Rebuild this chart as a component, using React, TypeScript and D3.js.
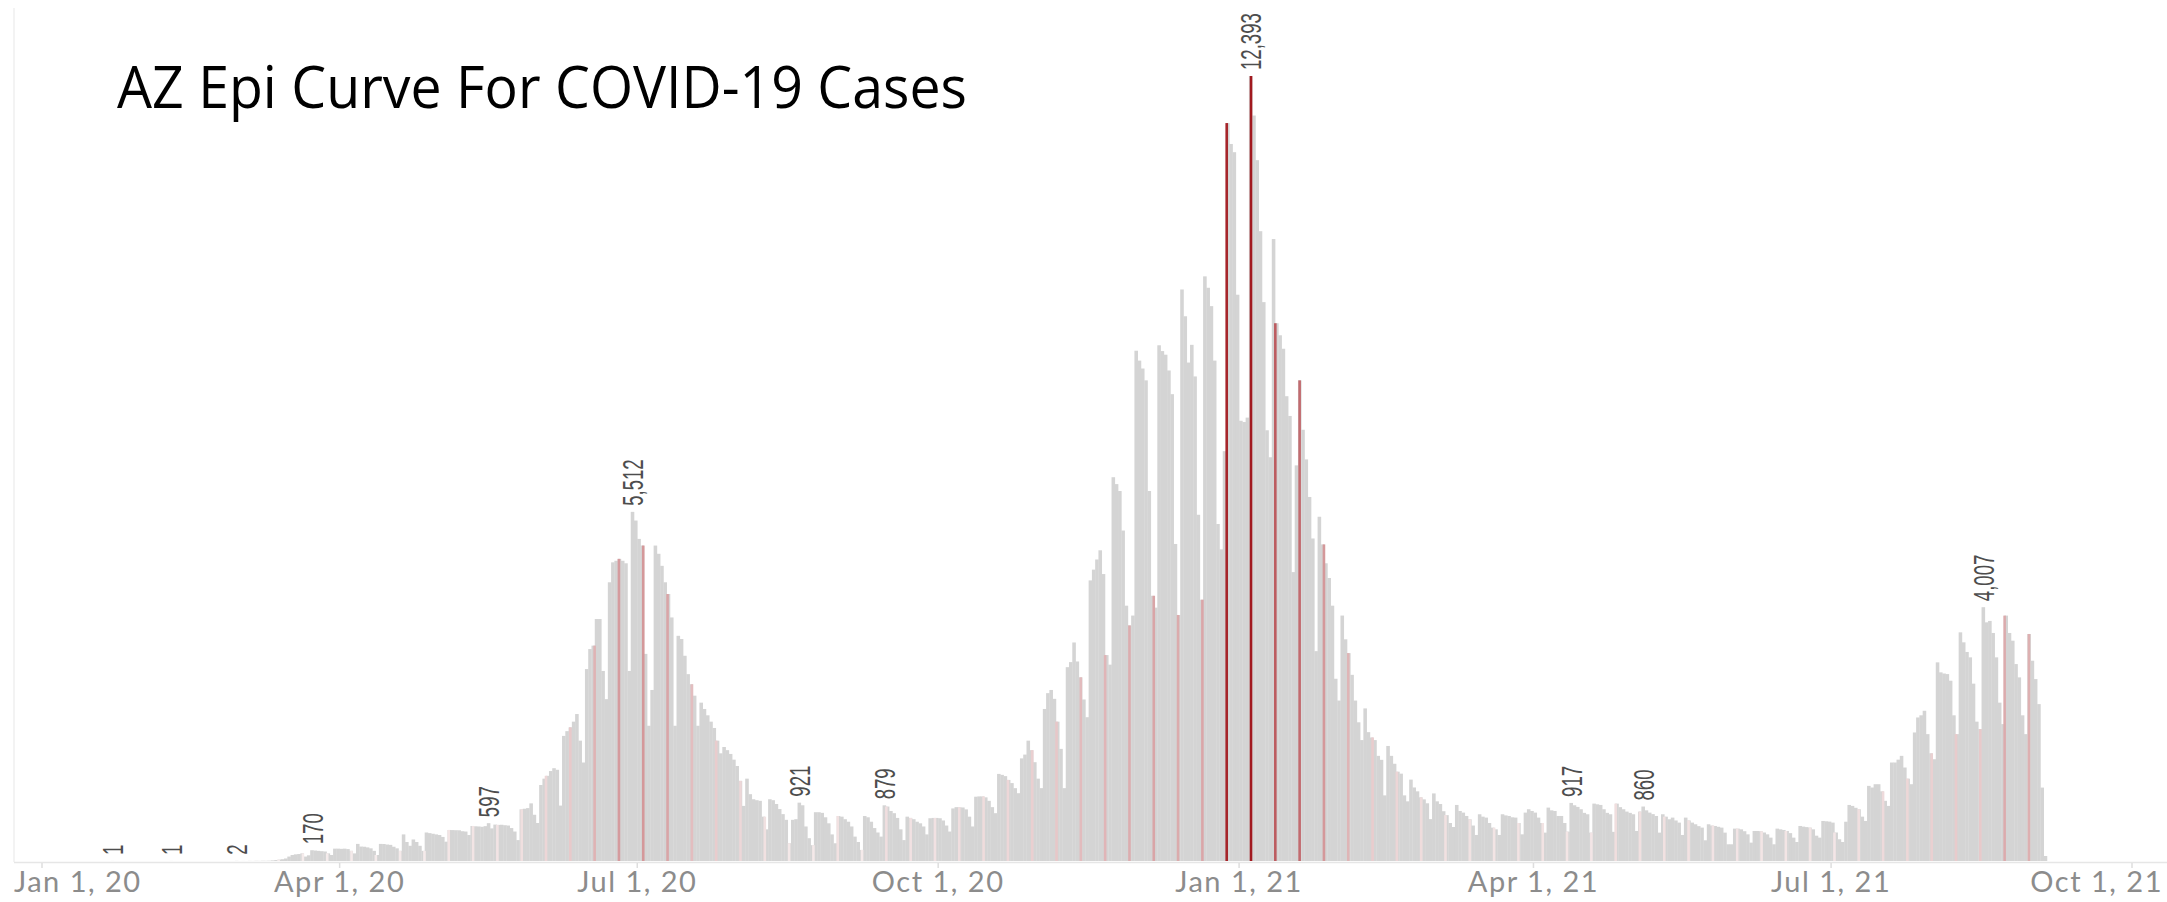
import * as d3 from "d3";
import React, { useEffect } from "react";

const chartTitle = "AZ Epi Curve For COVID-19 Cases";

// first handful of cases, before the daily series starts
const earlyDates = ["2020-01-22", "2020-02-09", "2020-02-29"];
const earlyCases = [1, 1, 2];

// daily cases by specimen date, one row per week (Mon..Sun), starting Mon 2 Mar 2020
const seriesStart = "2020-03-02";
const weeklyCases: number[][] = [
    [1, 0, 2, 1, 3, 2, 4],
    [3, 5, 9, 15, 22, 28, 40],
    [70, 95, 105, 110, 121, 70, 90],
    [170, 165, 160, 155, 150, 120, 95],
    [195, 195, 192, 195, 188, 160, 120],
    [270, 228, 225, 215, 200, 160, 95],
    [270, 268, 260, 255, 225, 200, 160],
    [420, 300, 240, 340, 300, 240, 160],
    [450, 440, 430, 420, 410, 380, 305],
    [490, 488, 486, 485, 470, 465, 410],
    [553, 548, 545, 540, 550, 597, 515],
    [575, 570, 572, 565, 560, 520, 465],
    [330, 815, 825, 835, 910, 730, 600],
    [1200, 1300, 1345, 1420, 1465, 1440, 875],
    [1975, 2050, 2110, 2200, 2320, 1900, 1555],
    [3030, 3346, 3400, 3820, 3820, 3000, 2555],
    [4400, 4715, 4740, 4770, 4740, 4700, 3000],
    [5512, 5375, 5085, 4980, 3270, 2135, 2700],
    [4980, 4850, 4660, 4400, 4215, 3845, 2135],
    [3555, 3505, 3240, 2950, 2790, 2610, 2135],
    [2500, 2400, 2300, 2200, 2100, 1900, 1700],
    [1800, 1750, 1690, 1600, 1500, 1265, 870],
    [1300, 1055, 975, 960, 950, 700, 500],
    [975, 960, 900, 820, 740, 650, 280],
    [650, 660, 921, 880, 545, 360, 250],
    [770, 770, 760, 690, 595, 420, 280],
    [710, 700, 660, 620, 545, 385, 300],
    [175, 710, 690, 620, 520, 450, 385],
    [879, 860, 790, 755, 680, 500, 330],
    [700, 680, 660, 620, 595, 545, 420],
    [675, 680, 680, 675, 640, 560, 465],
    [830, 850, 848, 845, 815, 700, 545],
    [1015, 1020, 1020, 1005, 950, 850, 755],
    [1375, 1360, 1340, 1280, 1230, 1150, 1070],
    [1620, 1680, 1900, 1750, 1560, 1300, 1150],
    [2400, 2650, 2700, 2560, 2200, 1770, 1150],
    [3060, 3140, 3450, 3150, 2900, 2550, 2270],
    [4430, 4600, 4760, 4905, 4530, 3251, 3100],
    [6059, 5950, 5841, 5217, 4031, 3719, 3875],
    [8056, 7900, 7775, 7588, 5841, 4187, 4000],
    [8142, 8050, 7993, 7744, 7370, 5005, 3884],
    [9023, 8600, 7869, 8149, 7650, 5466, 4125],
    [9230, 9050, 8760, 7900, 5320, 4920, 6470],
    [11650, 11320, 11190, 8940, 6950, 6930, 7000],
    [12393, 11769, 11064, 9943, 8823, 6800, 6374],
    [9819, 8490, 8300, 8087, 7338, 7026, 4561],
    [6246, 7588, 6808, 6340, 5747, 5092, 3313],
    [5435, 4998, 4700, 4468, 4031, 2877, 2533],
    [3875, 3500, 3282, 2939, 2533, 2190, 1909],
    [2409, 2034, 1950, 1909, 1660, 1597, 1036],
    [1816, 1660, 1535, 1410, 1379, 1036, 942],
    [1285, 1161, 1100, 1005, 973, 911, 661],
    [1067, 942, 900, 786, 724, 600, 537],
    [885, 790, 764, 711, 659, 560, 411],
    [738, 700, 685, 600, 527, 500, 411],
    [738, 720, 711, 690, 685, 600, 421],
    [764, 817, 790, 764, 685, 600, 448],
    [843, 800, 790, 711, 711, 600, 464],
    [917, 880, 854, 817, 760, 738, 448],
    [906, 895, 885, 817, 760, 738, 460],
    [906, 850, 817, 780, 760, 738, 474],
    [780, 860, 800, 764, 740, 711, 448],
    [738, 700, 659, 685, 640, 606, 411],
    [685, 640, 606, 580, 550, 527, 327],
    [580, 560, 553, 540, 527, 448, 264],
    [264, 511, 511, 500, 470, 421, 290],
    [474, 474, 470, 450, 421, 369, 264],
    [511, 500, 490, 474, 440, 369, 300],
    [553, 543, 535, 527, 500, 400, 369],
    [632, 627, 622, 606, 450, 343, 300],
    [620, 885, 870, 840, 817, 700, 632],
    [1186, 1160, 1212, 1212, 1100, 950, 870],
    [1555, 1555, 1600, 1660, 1476, 1300, 1212],
    [2029, 2266, 2300, 2372, 2003, 1700, 1607],
    [3136, 2978, 2960, 2951, 2846, 2300, 2003],
    [3610, 3452, 3300, 3215, 2800, 2200, 2082],
    [4007, 3768, 3790, 3600, 3215, 2500, 2161],
    [3874, 3600, 3478, 3109, 2899, 2300, 2003],
    [3584, 3162, 2872, 2477, 1159, 79],
];

// bars that carry a value label
const labelledDates = [
    "2020-01-22", "2020-02-09", "2020-02-29", "2020-03-23", "2020-05-16", "2020-06-29",
    "2020-08-19", "2020-09-14", "2021-01-04", "2021-04-12", "2021-05-04", "2021-08-16",
];

const axisStart = "2020-01-01";
const axisEnd = "2021-10-01";

const W = 2167;
const H = 902;
const plotLeft = 42;
const plotRight = 2132;
const baseY = 861;
const topY = 76;
// the weekly red marks live on a second date axis that is not synced with the first one
const markLeft = -30.5;
const markRight = 2188.7;

const App: React.FC = () => {
    const svgRef = React.useRef<SVGSVGElement>(null);

    useEffect(() => {
        const svg = d3.select(svgRef.current);
        svg.selectAll("*").remove();

        const parse = d3.utcParse("%Y-%m-%d");
        const start = parse(seriesStart)!;

        const days: { date: Date; cases: number }[] = [];
        earlyDates.forEach((d, i) => days.push({ date: parse(d)!, cases: earlyCases[i] }));
        weeklyCases.flat().forEach((c, i) => days.push({ date: d3.utcDay.offset(start, i), cases: c }));
        const byDay = new Map(days.map(d => [+d.date, d]));

        const x = d3.scaleUtc().domain([parse(axisStart)!, parse(axisEnd)!]).range([plotLeft, plotRight]);
        const xMark = d3.scaleUtc().domain(x.domain()).range([markLeft, markRight]);
        const maxCases = d3.max(days, d => d.cases)!;
        const y = d3.scaleLinear().domain([0, maxCases]).range([baseY, topY]);
        const markColor = d3.scaleLinear<string>().domain([0, maxCases]).range(["#f6eded", "#a1191f"]);

        // frame + axis line
        svg.append("line").attr("x1", 14).attr("x2", 14).attr("y1", 8).attr("y2", baseY + 1)
            .attr("stroke", "#efefef").attr("stroke-width", 1.5);
        svg.append("line").attr("x1", 14).attr("x2", W).attr("y1", baseY + 1.5).attr("y2", baseY + 1.5)
            .attr("stroke", "#e6e6e6").attr("stroke-width", 1.5);

        // grey day bars
        svg.append("g").selectAll("rect")
            .data(days)
            .join("rect")
            .attr("x", d => x(d.date))
            .attr("width", d => x(d3.utcDay.offset(d.date, 1)) - x(d.date) + 0.3)
            .attr("y", d => y(d.cases))
            .attr("height", d => baseY - y(d.cases))
            .attr("fill", "#d4d4d4");

        // weekly marks, coloured by the height of the bar they fall on
        const marks = d3.utcMonday.range(x.domain()[0], x.domain()[1])
            .map(m => {
                const px = xMark(m);
                const day = byDay.get(+d3.utcDay.floor(x.invert(px)));
                return { px, cases: day ? day.cases : 0 };
            })
            .filter(m => m.cases > 0);
        svg.append("g").selectAll("rect")
            .data(marks)
            .join("rect")
            .attr("x", d => d.px - 1.3)
            .attr("width", 2.6)
            .attr("y", d => y(d.cases))
            .attr("height", d => baseY - y(d.cases))
            .attr("fill", d => markColor(d.cases));

        // value labels, set upright along the bar, squeezed like tableau's condensed font
        const fmt = d3.format(",");
        const labels = labelledDates.map(s => byDay.get(+parse(s)!)!).filter(Boolean);
        svg.append("g").selectAll("text")
            .data(labels)
            .join("text")
            .attr("transform", d => {
                const cx = (x(d.date) + x(d3.utcDay.offset(d.date, 1))) / 2;
                return `translate(${cx},${y(d.cases) - 6}) rotate(-90) scale(0.62,1)`;
            })
            .attr("text-anchor", "start")
            .attr("dominant-baseline", "central")
            .attr("font-family", "'Liberation Sans', Arial, sans-serif")
            .attr("font-size", 30)
            .attr("fill", "#4d4d4d")
            .text(d => fmt(d.cases));

        // x axis ticks + labels
        const ticks = x.ticks(d3.utcMonth.every(3)!);
        const tickFmt = d3.utcFormat("%b %-d, %y");
        svg.append("g").selectAll("line")
            .data(ticks)
            .join("line")
            .attr("x1", d => x(d)).attr("x2", d => x(d))
            .attr("y1", baseY + 2).attr("y2", baseY + 7)
            .attr("stroke", "#dedede").attr("stroke-width", 1.5);
        const tickText = svg.append("g").selectAll("text")
            .data(ticks)
            .join("text")
            .attr("x", d => x(d))
            .attr("y", 892)
            .attr("text-anchor", "middle")
            .attr("font-family", "Lato, 'Open Sans', sans-serif")
            .attr("font-size", 29)
            .attr("letter-spacing", 1.5)
            .attr("fill", "#8c8c8c")
            .text(d => tickFmt(d));
        // keep the end labels inside the view, like tableau does
        tickText.each(function () {
            const el = this as SVGTextElement;
            const w = el.getComputedTextLength();
            const cx = +el.getAttribute("x")!;
            if (cx - w / 2 < 14) el.setAttribute("x", String(14 + w / 2));
            if (cx + w / 2 > W - 4) el.setAttribute("x", String(W - 4 - w / 2));
        });

        // title
        svg.append("text")
            .attr("x", 117)
            .attr("y", 108)
            .attr("font-family", "'Open Sans', sans-serif")
            .attr("font-size", 58)
            .attr("fill", "#000")
            .attr("textLength", 850)
            .attr("lengthAdjust", "spacingAndGlyphs")
            .text(chartTitle);
    }, []);

    return (
        <svg
            ref={svgRef}
            width={W}
            height={H}
            style={{ position: "absolute", left: 0, top: 0, background: "#fff" }}
        />
    );
};

export default App;
